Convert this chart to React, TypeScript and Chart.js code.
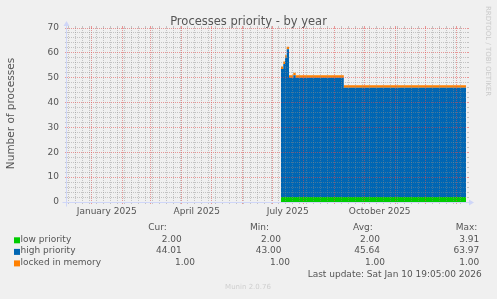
import React, { useEffect, useRef } from 'react';
import { Chart, registerables } from 'chart.js';

Chart.register(...registerables);

// ---------- data (days counted from 1 January 2025) ----------
const sampleDays = [189.3, 191.6, 193.3, 195.0, 197.3, 201.6, 204.0, 252.1, 374.3];
const lowPriority = [2, 2, 2, 2, 2, 2, 2, 2, 2];
const highPriority = [51.5, 53.5, 56, 59.5, 48, 49, 48, 44, 44];
const lockedInMemory = [1, 1, 1, 1, 1, 1, 1, 1, 1];

const seriesNames = ['low priority', 'high priority', 'locked in memory'];
const seriesColors = ['#00CC00', '#0066B3', '#FF8000'];
const curValues = ['2.00', '44.01', '1.00'];
const minValues = ['2.00', '43.00', '1.00'];
const avgValues = ['2.00', '45.64', '1.00'];
const maxValues = ['3.91', '63.97', '1.00'];

// month starts (day offsets from 2025-01-01)
const monthStarts = [0, 31, 59, 90, 120, 151, 181, 212, 243, 273, 304, 334, 365];
const labelDays = [15, 105, 196, 288];
const labelTexts = ['January 2025', 'April 2025', 'July 2025', 'October 2025'];
const firstMonday = -23; // 9 Dec 2024
const lastMonday = 369; // 5 Jan 2026
const yTickValues: number[] = [];
for (let v = 0; v <= 70; v += 2) yTickValues.push(v);

const X_MIN = -24.7;
const X_MAX = 375.3;

const weekStarts: number[] = [];
for (let d = firstMonday; d <= lastMonday; d += 7) if (!monthStarts.includes(d)) weekStarts.push(d);

const monthSet = new Set(monthStarts);
const labelMap = new Map(labelDays.map((d, i) => [d, labelTexts[i]]));
const xTickValues = [...weekStarts, ...monthStarts, ...labelDays].sort((a, b) => a - b);

const FONT = '"DejaVu Sans", sans-serif';
const TEXT = '#555555';
const GRID_MINOR = 'rgba(140,140,140,0.45)';
const GRID_MAJOR = 'rgba(222,79,79,0.55)';
const AXIS = '#CFD6F8';

const pts = (vals: number[]) => sampleDays.map((d, i) => ({ x: d, y: vals[i] }));

const muninPlugin = {
  id: 'muninDecor',
  afterDraw(chart: any) {
    const ctx: CanvasRenderingContext2D = chart.ctx;
    const a = chart.chartArea;
    const xs = chart.scales.x;
    const ys = chart.scales.y;
    const al = (p: number) => Math.round(p - 0.5) + 0.5;
    const seg = (x1: number, y1: number, x2: number, y2: number, c: string) => {
      ctx.strokeStyle = c;
      ctx.beginPath();
      ctx.moveTo(x1, y1);
      ctx.lineTo(x2, y2);
      ctx.stroke();
    };
    ctx.save();
    ctx.lineWidth = 1;
    // top ticks of vertical grid
    for (const d of weekStarts) {
      if (d < X_MIN || d > X_MAX) continue;
      const x = al(xs.getPixelForValue(d));
      seg(x, a.top - 2, x, a.top, GRID_MINOR);
    }
    for (const d of monthStarts) {
      if (d < X_MIN || d > X_MAX) continue;
      const x = al(xs.getPixelForValue(d));
      seg(x, a.top - 2, x, a.top, GRID_MAJOR);
    }
    // right ticks of horizontal grid
    for (const v of yTickValues) {
      const y = al(ys.getPixelForValue(v));
      seg(a.right, y, a.right + 2, y, v % 10 === 0 ? GRID_MAJOR : GRID_MINOR);
    }
    // axes
    const ax = al(a.left) - 1;
    const ay = al(a.bottom);
    seg(ax - 4, ay, a.right + 4, ay, AXIS);
    seg(ax, ay + 4, ax, a.top - 4, AXIS);
    ctx.fillStyle = AXIS;
    ctx.beginPath();
    ctx.moveTo(a.right + 2, ay - 3);
    ctx.lineTo(a.right + 2, ay + 3);
    ctx.lineTo(a.right + 7, ay);
    ctx.closePath();
    ctx.fill();
    ctx.beginPath();
    ctx.moveTo(ax - 3, a.top - 2);
    ctx.lineTo(ax + 3, a.top - 2);
    ctx.lineTo(ax, a.top - 7);
    ctx.closePath();
    ctx.fill();

    // title
    ctx.textBaseline = 'middle';
    ctx.fillStyle = TEXT;
    ctx.font = `11.5px ${FONT}`;
    ctx.textAlign = 'center';
    ctx.fillText('Processes priority - by year', 248.5, 21.8);

    // y axis title
    ctx.save();
    ctx.translate(11, 113.5);
    ctx.rotate(-Math.PI / 2);
    ctx.font = `10.5px ${FONT}`;
    ctx.fillText('Number of processes', 0, 0);
    ctx.restore();

    // rrdtool watermark
    ctx.save();
    ctx.translate(487.5, 51);
    ctx.rotate(Math.PI / 2);
    ctx.fillStyle = '#CACACA';
    ctx.font = `7px ${FONT}`;
    ctx.fillText('RRDTOOL / TOBI OETIKER', 0, 0);
    ctx.restore();

    // legend
    ctx.font = `9px ${FONT}`;
    ctx.fillStyle = TEXT;
    ctx.textAlign = 'right';
    ctx.fillText('Cur:', 166.7, 228);
    ctx.textAlign = 'left';
    ctx.fillText('Min:', 250, 228);
    ctx.fillText('Avg:', 353, 228);
    ctx.fillText('Max:', 455.7, 228);

    const rowY = [239.3, 250.9, 262.4];
    const curRight = [181.7, 181.7, 195];
    const minRight = [281, 281.5, 290];
    const avgRight = [380, 380, 385];
    const maxRight = [479.3, 479.3, 479.3];
    for (let i = 0; i < seriesNames.length; i++) {
      const y = rowY[i];
      ctx.fillStyle = seriesColors[i];
      ctx.fillRect(14, y - 2, 6, 6);
      ctx.fillStyle = TEXT;
      ctx.textAlign = 'left';
      ctx.fillText(seriesNames[i], 20.5, y);
      ctx.textAlign = 'right';
      ctx.fillText(curValues[i], curRight[i], y);
      ctx.fillText(minValues[i], minRight[i], y);
      ctx.fillText(avgValues[i], avgRight[i], y);
      ctx.fillText(maxValues[i], maxRight[i], y);
    }
    ctx.textAlign = 'right';
    ctx.fillText('Last update: Sat Jan 10 19:05:00 2026', 481.7, 275);

    ctx.textAlign = 'center';
    ctx.fillStyle = '#CFCFCF';
    ctx.font = `7px ${FONT}`;
    ctx.fillText('Munin 2.0.76', 248, 287);
    ctx.restore();
  },
};

export default function App() {
  const ref = useRef<HTMLCanvasElement>(null);
  useEffect(() => {
    document.body.style.margin = '0';
    const xGridColor = (c: any) => {
      const v = c.tick ? c.tick.value : NaN;
      if (labelMap.has(v)) return 'rgba(0,0,0,0)';
      return monthSet.has(v) ? GRID_MAJOR : GRID_MINOR;
    };
    const yGridColor = (c: any) => {
      const v = c.tick ? c.tick.value : NaN;
      return v % 10 === 0 ? GRID_MAJOR : GRID_MINOR;
    };
    const mk = (label: string, vals: number[], color: string, fill: any) => ({
      label,
      data: pts(vals),
      backgroundColor: color,
      borderColor: 'rgba(0,0,0,0)',
      borderWidth: 0,
      pointRadius: 0,
      stepped: 'before' as const,
      fill,
    });
    const chart = new Chart(ref.current!, {
      type: 'line',
      data: {
        datasets: [
          mk(seriesNames[0], lowPriority, seriesColors[0], 'origin'),
          mk(seriesNames[1], highPriority, seriesColors[1], '-1'),
          mk(seriesNames[2], lockedInMemory, seriesColors[2], '-1'),
        ],
      },
      options: {
        responsive: false,
        animation: false,
        events: [],
        layout: { padding: { left: 0, top: 28, right: 30, bottom: 0 } },
        plugins: { legend: { display: false }, tooltip: { enabled: false }, title: { display: false } },
        scales: {
          x: {
            type: 'linear',
            min: X_MIN,
            max: X_MAX,
            afterBuildTicks: (s: any) => {
              s.ticks = xTickValues.map((v) => ({ value: v }));
            },
            afterFit: (s: any) => {
              s.height = 97;
            },
            ticks: {
              autoSkip: false,
              maxRotation: 0,
              minRotation: 0,
              padding: 2,
              color: TEXT,
              font: { family: 'DejaVu Sans', size: 9 },
              callback: (v: any) => labelMap.get(v) ?? '',
            },
            grid: {
              z: 1,
              color: xGridColor,
              tickColor: xGridColor,
              tickLength: 2,
              lineWidth: 1,
            },
            border: { display: false, dash: [1, 1] },
          },
          y: {
            type: 'linear',
            min: 0,
            max: 70,
            stacked: true,
            afterBuildTicks: (s: any) => {
              s.ticks = yTickValues.map((v) => ({ value: v }));
            },
            afterFit: (s: any) => {
              s.width = 67;
            },
            ticks: {
              autoSkip: false,
              padding: 6,
              color: TEXT,
              font: { family: 'DejaVu Sans', size: 9 },
              callback: (v: any) => (v % 10 === 0 ? String(v) : ''),
            },
            grid: {
              z: 1,
              color: yGridColor,
              tickColor: yGridColor,
              tickLength: 2,
              lineWidth: 1,
            },
            border: { display: false, dash: [1, 1] },
          },
        },
      },
      plugins: [muninPlugin],
    } as any);
    return () => chart.destroy();
  }, []);
  return (
    <div style={{ width: 497, height: 299, background: '#F0F0F0', overflow: 'hidden' }}>
      <canvas ref={ref} width={497} height={299} style={{ display: 'block', width: 497, height: 299 }} />
    </div>
  );
}
